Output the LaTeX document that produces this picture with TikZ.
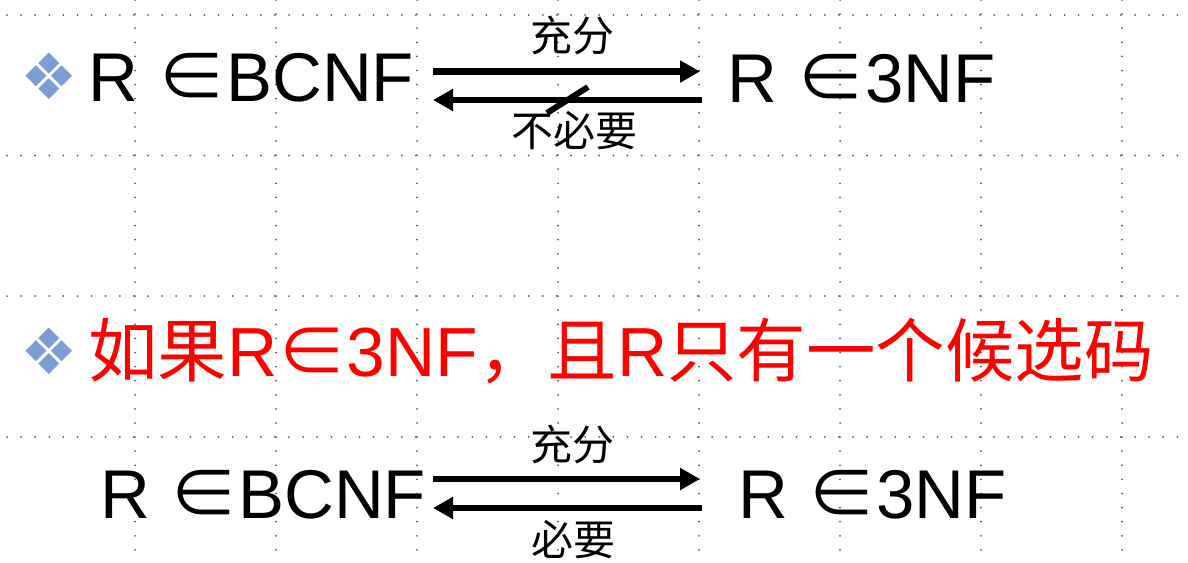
\documentclass[tikz,border=0pt]{standalone}
\usepackage{fontspec}
\setmainfont{Liberation Sans}
\newfontfamily\cjk{Noto Sans CJK SC}
\newfontfamily\dingfont{DejaVu Sans}
\usetikzlibrary{arrows.meta}
\definecolor{bulletblue}{RGB}{122,158,212}

\begin{document}
\begin{tikzpicture}[x=1pt, y=-1pt]
\tikzstyle{every node}=[inner sep=0pt]
\tikzstyle{gridline}=[line width=2pt, black!65, line cap=round, dash pattern=on 0pt off 14.1pt]
\tikzstyle{formula}=[font=\fontsize{69}{69}\selectfont, anchor=base west]
\tikzstyle{condition}=[font=\fontsize{69.5}{69.5}\selectfont, anchor=base west, text=red]
\tikzstyle{bulletmark}=[font=\dingfont\fontsize{64}{64}\selectfont, text=bulletblue]
\tikzstyle{relation}=[font=\cjk\fontsize{42}{42}\selectfont]
\tikzstyle{bigarrow}=[line width=6.5pt, -{Triangle[length=20pt, width=21pt]}]

\useasboundingbox (0, 0) rectangle (1188, 562);

% dotted guides
\draw[gridline] (135, 0) -- (135, 562);
\draw[gridline] (276, 0) -- (276, 562);
\draw[gridline] (417, 0) -- (417, 562);
\draw[gridline] (558, 0) -- (558, 562);
\draw[gridline] (699, 0) -- (699, 562);
\draw[gridline] (840, 0) -- (840, 562);
\draw[gridline] (981, 0) -- (981, 562);
\draw[gridline] (1122, 0) -- (1122, 562);
\draw[gridline] (7, 15) -- (1188, 15);
\draw[gridline] (7, 155.5) -- (1188, 155.5);
\draw[gridline] (7, 296) -- (1188, 296);
\draw[gridline] (7, 437) -- (1188, 437);

% first line
\node[bulletmark] (markA) at (49, 76) {❖};
\node[formula] (bcnfA) at (88, 101) {R {\cjk ∈}BCNF};
\node[formula] (tnfA) at (727, 102) {R {\cjk ∈}3NF};
\coordinate (sufA0) at (433, 71.5);
\coordinate (sufA1) at (700, 71.5);
\coordinate (necA0) at (702, 100);
\coordinate (necA1) at (433, 100);
\draw[bigarrow] (sufA0) -- (sufA1); % BCNF -> 3NF
    \node[relation] (sufA) at (572, 36) {充分};
\draw[bigarrow] (necA0) -- (necA1); % 3NF -> BCNF
    \node[relation] (necA) at (574, 131) {不必要};
\draw[line width=6pt] (547, 113) -- (588, 87); % slash

% condition
\node[bulletmark] (markB) at (49, 351) {❖};
\node[condition] (cond) at (88, 376) {{\cjk 如果}R{\cjk ∈}3NF{\cjk ，且}R{\cjk 只有一个候选码}};

% second line
\node[formula] (bcnfB) at (100, 518) {R {\cjk ∈}BCNF};
\node[formula] (tnfB) at (738, 518) {R {\cjk ∈}3NF};
\coordinate (sufB0) at (433, 479);
\coordinate (sufB1) at (700, 479);
\coordinate (necB0) at (702, 508);
\coordinate (necB1) at (433, 508);
\draw[bigarrow] (sufB0) -- (sufB1); % BCNF -> 3NF
    \node[relation] (sufB) at (572, 445) {充分};
\draw[bigarrow] (necB0) -- (necB1); % 3NF -> BCNF
    \node[relation] (necB) at (573, 540) {必要};

\end{tikzpicture}
\end{document}
